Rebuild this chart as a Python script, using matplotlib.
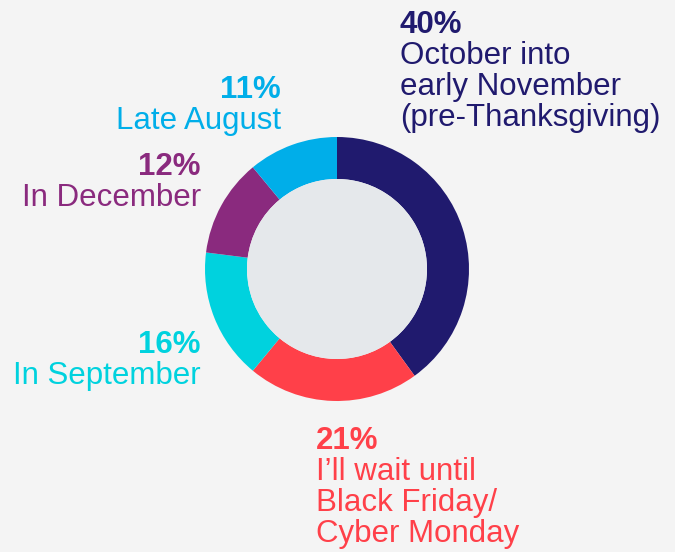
import matplotlib
matplotlib.use("Agg")
import matplotlib.pyplot as plt
from matplotlib.patches import Circle

# shares, clockwise from 12 o'clock
shares = [40, 21, 16, 12, 11]
labels = [
    ["October into", "early November", "(pre-Thanksgiving)"],
    ["I\u2019ll wait until", "Black Friday/", "Cyber Monday"],
    ["In September"],
    ["In December"],
    ["Late August"],
]
colors = ["#201a6e", "#ff4049", "#00d2de", "#8a2a7e", "#00aee9"]

W, H = 675, 552
fig = plt.figure(figsize=(W / 100, H / 100), dpi=100)
fig.patch.set_facecolor("#f4f4f4")
ax = fig.add_axes([0, 0, 1, 1])
ax.set_facecolor("#f4f4f4")

cx, cy, r_out, r_in = 337, H - 269, 132, 90
ax.pie(shares, colors=colors, startangle=90, counterclock=False,
       radius=r_out, center=(cx, cy),
       wedgeprops=dict(width=r_out - r_in, linewidth=0))
ax.add_patch(Circle((cx, cy), r_in, color="#e5e8eb", lw=0))

ax.set_xlim(0, W)
ax.set_ylim(0, H)
ax.set_aspect("equal")
ax.axis("off")

# label anchor (x, first baseline in px from top, alignment)
anchors = [(400, 33, "left"), (316, 449, "left"), (201, 353, "right"),
           (201, 175, "right"), (281, 98, "right")]
step = 31
fs = 22.5
font = "Liberation Sans"
for share, lines, col, (x, y0, ha) in zip(shares, labels, colors, anchors):
    ax.text(x, H - y0, f"{share}%", color=col, fontsize=fs, fontweight="bold",
            family=font, ha=ha, va="baseline")
    for i, line in enumerate(lines):
        ax.text(x, H - (y0 + step * (i + 1)), line, color=col, fontsize=fs,
                family=font, ha=ha, va="baseline")

fig.savefig("out.png", dpi=100, facecolor=fig.get_facecolor())
